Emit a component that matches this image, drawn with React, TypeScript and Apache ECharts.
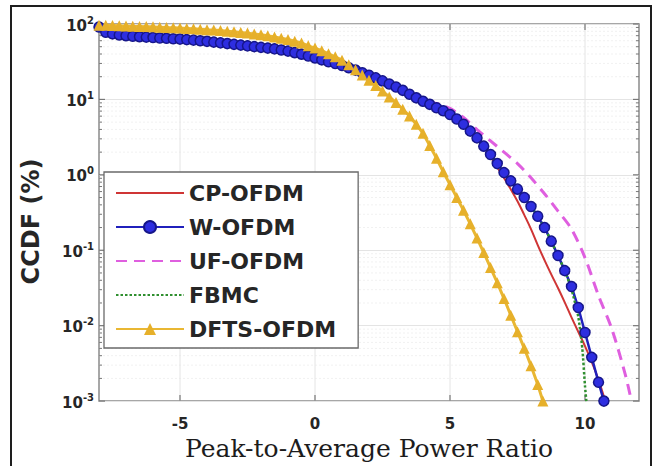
import React, { useEffect, useRef } from "react";
import * as echarts from "echarts";

// ---------- data (CCDF in %) ----------
const wofdmX = [
  -8, -7.75, -7.5, -7.25, -7, -6.75, -6.5, -6.25, -6, -5.75, -5.5, -5.25, -5, -4.75, -4.5, -4.25,
  -4, -3.75, -3.5, -3.25, -3, -2.75, -2.5, -2.25, -2, -1.75, -1.5, -1.25, -1, -0.75, -0.5, -0.25,
  0, 0.25, 0.5, 0.75, 1, 1.25, 1.5, 1.75, 2, 2.25, 2.5, 2.75, 3, 3.25, 3.5, 3.75,
  4, 4.25, 4.5, 4.75, 5, 5.25, 5.5, 5.75, 6, 6.25, 6.5, 6.75, 7, 7.25, 7.5, 7.75,
  8, 8.25, 8.5, 8.75, 9, 9.25, 9.5, 9.75, 10, 10.25, 10.5, 10.7,
];
const wofdmY = [
  91.2, 77.6, 74.1, 71.6, 70.0, 68.9, 67.9, 67.0, 66.1, 65.3, 64.6, 63.8, 63.1, 62.1, 61.1, 60.0,
  58.9, 57.5, 56.2, 55.0, 53.7, 52.5, 51.3, 50.1, 49.0, 47.9, 46.8, 45.2, 43.7, 41.7, 39.8, 37.6,
  35.5, 33.5, 31.6, 29.9, 28.2, 26.3, 24.5, 22.6, 20.9, 19.3, 17.6, 16.0, 14.6, 13.2, 11.7, 10.5,
  9.44, 8.61, 7.76, 7.08, 6.31, 5.5, 4.68, 3.8, 3.09, 2.4, 1.86, 1.41, 1.07, 0.832, 0.646, 0.501,
  0.38, 0.282, 0.2, 0.132, 0.0851, 0.0537, 0.0331, 0.0174, 0.00813, 0.0038, 0.00178, 0.001,
];

// CP-OFDM follows W-OFDM up to 6 dB, then:
const cpTailX = [6.25, 6.5, 6.75, 7, 7.25, 7.5, 7.75, 8, 8.25, 8.5, 8.75, 9, 9.25, 9.5, 9.75, 10, 10.25, 10.5, 10.75];
const cpTailY = [2.34, 1.74, 1.26, 0.912, 0.646, 0.447, 0.295, 0.191, 0.117, 0.0741, 0.0479, 0.0316, 0.0204, 0.0129, 0.00832, 0.00537, 0.00331, 0.00191, 0.001];

// UF-OFDM follows W-OFDM up to 4 dB, then:
const ufTailX = [4.5, 5, 5.5, 6, 6.5, 7, 7.5, 8, 8.5, 9, 9.5, 10, 10.5, 11, 11.5, 11.72];
const ufTailY = [8.81, 7.59, 5.75, 3.98, 2.82, 2.0, 1.41, 0.912, 0.562, 0.331, 0.191, 0.0794, 0.0251, 0.00891, 0.00219, 0.001];

// FBMC follows W-OFDM up to 9.25 dB, then:
const fbmcTailX = [9.5, 9.75, 9.9, 10, 10.05];
const fbmcTailY = [0.0302, 0.0132, 0.00501, 0.00158, 0.001];

const dftsX = [
  -8, -7.75, -7.5, -7.25, -7, -6.75, -6.5, -6.25, -6, -5.75, -5.5, -5.25, -5, -4.75, -4.5, -4.25,
  -4, -3.75, -3.5, -3.25, -3, -2.75, -2.5, -2.25, -2, -1.75, -1.5, -1.25, -1, -0.75, -0.5, -0.25,
  0, 0.25, 0.5, 0.75, 1, 1.25, 1.5, 1.75, 2, 2.25, 2.5, 2.75, 3, 3.25, 3.5, 3.75,
  4, 4.25, 4.5, 4.75, 5, 5.25, 5.5, 5.75, 6, 6.25, 6.5, 6.75, 7, 7.25, 7.5, 7.75,
  8, 8.25, 8.44,
];
const dftsY = [
  96.6, 96.2, 95.5, 94.8, 94.2, 93.5, 92.9, 92.3, 91.6, 90.8, 89.9, 89.1, 88.3, 87.3, 86.3, 85.3,
  84.1, 83.0, 81.7, 80.4, 78.9, 77.3, 75.7, 73.8, 71.8, 69.7, 67.3, 64.9, 62.2, 59.2, 56.0, 51.3,
  47.9, 44.2, 40.3, 36.7, 33.1, 28.8, 24.8, 21.1, 18.0, 15.3, 12.9, 10.8, 9.12, 7.41, 6.03, 4.68,
  3.55, 2.45, 1.66, 1.1, 0.741, 0.501, 0.339, 0.224, 0.145, 0.0933, 0.0589, 0.0372, 0.0229, 0.0138, 0.00832, 0.00501,
  0.00295, 0.00166, 0.001,
];

const seriesNames = ["CP-OFDM", "W-OFDM", "UF-OFDM", "FBMC", "DFTS-OFDM"];
const xTicks = [-5, 0, 5, 10];
const yDecades = [0.001, 0.01, 0.1, 1, 10, 100];
const yMinorMult = [2, 3, 4, 5, 6, 7, 8, 9];
const X_MIN = -8;
const X_MAX = 12;
const Y_MIN = 0.001;
const Y_MAX = 100;

const zip = (xs: number[], ys: number[]) => xs.map((x, i) => [x, ys[i]]);
const prefix = (xs: number[], ys: number[], upTo: number) => zip(xs, ys).filter((p) => p[0] <= upTo);

const wofdm = zip(wofdmX, wofdmY);
const cp = [...prefix(wofdmX, wofdmY, 6), ...zip(cpTailX, cpTailY)];
const uf = [...prefix(wofdmX, wofdmY, 4), ...zip(ufTailX, ufTailY)];
const fbmc = [...prefix(wofdmX, wofdmY, 9.25), ...zip(fbmcTailX, fbmcTailY)];
const dfts = zip(dftsX, dftsY);

const yMinor = yDecades.slice(0, -1).flatMap((d) => yMinorMult.map((m) => d * m));

const GRID_COLOR = "#e4e4e4";
const MINOR_GRID_COLOR = "#f1f1f1";
const TICK_COLOR = "#777";
const SANS = "'DejaVu Sans', Verdana, sans-serif";

function buildOption(): any {
  return {
    animation: false,
    backgroundColor: "#fff",
    grid: {
      left: 99,
      right: 21,
      top: 24,
      bottom: 64,
      show: true,
      borderColor: "#8a8a8a",
      borderWidth: 1.5,
      backgroundColor: "#fff",
    },
    graphic: [
      {
        type: "rect",
        shape: { x: 11, y: 6, width: 640, height: 475 },
        style: { fill: "none", stroke: "#1e1e1e", lineWidth: 2 },
        z: 100,
        silent: true,
      },
    ],
    legend: {
      orient: "vertical",
      left: 104,
      top: 172,
      data: [
        { name: seriesNames[0], itemStyle: { opacity: 0 } },
        { name: seriesNames[1] },
        { name: seriesNames[2], itemStyle: { opacity: 0 } },
        { name: seriesNames[3], itemStyle: { opacity: 0 } },
        { name: seriesNames[4] },
      ],
      itemWidth: 68,
      itemHeight: 15,
      itemGap: 10,
      padding: [9, 22, 7, 11],
      borderColor: "#6a6a6a",
      borderWidth: 1.3,
      backgroundColor: "#fff",
      textStyle: {
        fontSize: 22,
        lineHeight: 24,
        fontWeight: "bold",
        fontFamily: SANS,
        color: "#262626",
      },
      selectedMode: false,
    },
    xAxis: {
      type: "value",
      min: X_MIN,
      max: X_MAX,
      name: "Peak-to-Average Power Ratio",
      nameLocation: "middle",
      nameGap: 31,
      nameTextStyle: {
        fontFamily: "'DejaVu Serif', serif",
        fontSize: 25,
        color: "#1c1c1c",
      },
      axisLine: { show: false },
      axisTick: { show: false },
      splitLine: { show: false },
      axisLabel: {
        customValues: xTicks,
        margin: 15,
        fontSize: 15,
        fontWeight: "bold",
        fontFamily: SANS,
        color: "#262626",
      },
    },
    yAxis: {
      type: "log",
      logBase: 10,
      min: Y_MIN,
      max: Y_MAX,
      name: "CCDF (%)",
      nameLocation: "middle",
      nameGap: 56,
      nameTextStyle: {
        fontFamily: SANS,
        fontSize: 24,
        fontWeight: "bold",
        color: "#262626",
        padding: [0, 18, 0, 0],
      },
      axisLine: { show: false },
      axisTick: { show: false },
      splitLine: { show: true, lineStyle: { color: GRID_COLOR, width: 1 } },
      axisLabel: {
        margin: 5,
        formatter: (v: number) => "{b|10}{s|" + Math.round(Math.log10(v)) + "}",
        rich: {
          b: {
            fontSize: 15,
            fontWeight: "bold",
            fontFamily: SANS,
            color: "#262626",
            lineHeight: 18,
            verticalAlign: "bottom",
          },
          s: {
            fontSize: 10,
            fontWeight: "bold",
            fontFamily: SANS,
            color: "#262626",
            lineHeight: 10,
            verticalAlign: "top",
          },
        },
      },
    },
    series: [
      // minor horizontal grid lines + minor y ticks
      {
        type: "custom",
        silent: true,
        clip: false,
        data: yMinor.map((v) => [X_MIN, v]),
        renderItem: (_p: any, api: any) => {
          const v = api.value(1);
          const a = api.coord([X_MIN, v]);
          const b = api.coord([X_MAX, v]);
          return {
            type: "group",
            children: [
              {
                type: "line",
                shape: { x1: a[0], y1: a[1], x2: b[0], y2: b[1] },
                style: { stroke: MINOR_GRID_COLOR, lineWidth: 1, lineDash: [2, 2] },
              },
              {
                type: "line",
                shape: { x1: a[0], y1: a[1], x2: a[0] + 3, y2: a[1] },
                style: { stroke: TICK_COLOR, lineWidth: 1 },
              },
              {
                type: "line",
                shape: { x1: b[0], y1: b[1], x2: b[0] - 3, y2: b[1] },
                style: { stroke: TICK_COLOR, lineWidth: 1 },
              },
            ],
          };
        },
      },
      // major y ticks (left/right)
      {
        type: "custom",
        silent: true,
        clip: false,
        data: yDecades.map((v) => [X_MIN, v]),
        renderItem: (_p: any, api: any) => {
          const v = api.value(1);
          const a = api.coord([X_MIN, v]);
          const b = api.coord([X_MAX, v]);
          return {
            type: "group",
            children: [
              { type: "line", shape: { x1: a[0], y1: a[1], x2: a[0] + 6, y2: a[1] }, style: { stroke: TICK_COLOR, lineWidth: 1.2 } },
              { type: "line", shape: { x1: b[0], y1: b[1], x2: b[0] - 6, y2: b[1] }, style: { stroke: TICK_COLOR, lineWidth: 1.2 } },
            ],
          };
        },
      },
      // vertical grid lines + x ticks (top/bottom)
      {
        type: "custom",
        silent: true,
        clip: false,
        data: xTicks.map((x) => [x, Y_MAX]),
        renderItem: (_p: any, api: any) => {
          const x = api.value(0);
          const t = api.coord([x, Y_MAX]);
          const b = api.coord([x, Y_MIN]);
          return {
            type: "group",
            children: [
              { type: "line", shape: { x1: t[0], y1: t[1], x2: b[0], y2: b[1] }, style: { stroke: GRID_COLOR, lineWidth: 1 } },
              { type: "line", shape: { x1: b[0], y1: b[1], x2: b[0], y2: b[1] - 6 }, style: { stroke: TICK_COLOR, lineWidth: 1.2 } },
              { type: "line", shape: { x1: t[0], y1: t[1], x2: t[0], y2: t[1] + 6 }, style: { stroke: TICK_COLOR, lineWidth: 1.2 } },
            ],
          };
        },
      },
      {
        name: seriesNames[0],
        type: "line",
        data: cp,
        symbol: "none",
        smooth: 0.4,
        lineStyle: { color: "#cf3535", width: 2 },
        itemStyle: { color: "#cf3535" },
      },
      {
        name: seriesNames[1],
        type: "line",
        data: wofdm,
        symbol: "circle",
        symbolSize: 10,
        lineStyle: { color: "#2020bc", width: 2.5 },
        itemStyle: { color: "#2e2ee0", borderColor: "#16168a", borderWidth: 1.5 },
      },
      {
        name: seriesNames[2],
        type: "line",
        data: uf,
        symbol: "none",
        smooth: 0.3,
        lineStyle: { color: "#df5fdf", width: 3, type: [11, 7] },
        itemStyle: { color: "#df5fdf" },
      },
      {
        name: seriesNames[3],
        type: "line",
        data: fbmc,
        symbol: "none",
        smooth: 0.2,
        lineStyle: { color: "#2f8f2f", width: 2.5, type: [2.5, 2] },
        itemStyle: { color: "#2f8f2f" },
      },
      {
        name: seriesNames[4],
        type: "line",
        data: dfts,
        symbol: "triangle",
        symbolSize: 11,
        lineStyle: { color: "#e9b733", width: 3 },
        itemStyle: { color: "#e6b02a" },
      },
    ],
  };
}

export default function App() {
  const ref = useRef<HTMLDivElement>(null);
  useEffect(() => {
    if (!ref.current) return;
    const chart = echarts.init(ref.current, null, { renderer: "svg" });
    chart.setOption(buildOption());
    return () => chart.dispose();
  }, []);
  return (
    <div
      ref={ref}
      style={{ position: "absolute", left: 0, top: 0, width: 660, height: 466, background: "#fff" }}
    />
  );
}
